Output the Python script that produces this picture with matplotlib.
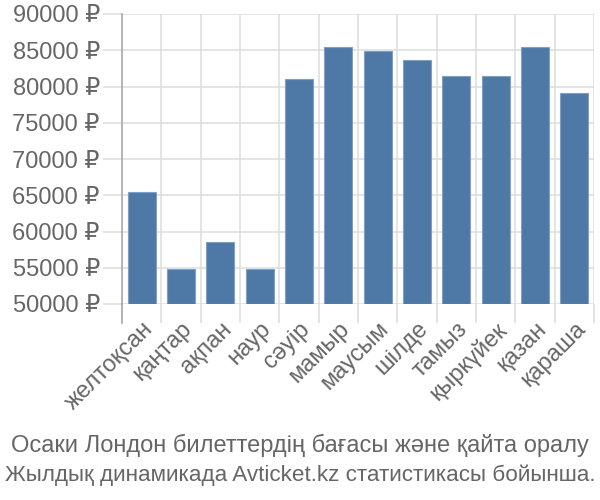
import matplotlib
matplotlib.use("Agg")
import matplotlib.pyplot as plt
import numpy as np

plt.rcParams['font.family'] = ['Liberation Sans', 'DejaVu Sans']

months = ["желтоқсан", "қаңтар", "ақпан", "наур", "сәуір", "мамыр", "маусым",
          "шілде", "тамыз", "қыркүйек", "қазан", "қараша"]
prices = [65400, 54800, 58600, 54800, 81100, 85400, 84900, 83600, 81500, 81500, 85400, 79100]
yticks = [50000, 55000, 60000, 65000, 70000, 75000, 80000, 85000, 90000]
title_lines = ["Осаки Лондон билеттердің бағасы және қайта оралу",
               "Жылдық динамикада Avticket.kz статистикасы бойынша."]

text_color = "#666666"
grid_color = "#dddddd"

fig = plt.figure(figsize=(6, 5), dpi=100)
ax = fig.add_axes([122/600, 1-304/500, (594-122)/600, (304-14)/500])

x = np.arange(len(months))
base = yticks[0]
ax.bar(x, [p - base for p in prices], bottom=base, width=0.72,
       color="#4e79a7", edgecolor="#7f9fc4", linewidth=0.8, zorder=3)

ax.set_xlim(-0.5, len(months) - 0.5)
ax.set_ylim(yticks[0], yticks[-1])
ax.set_yticks(yticks)
ax.set_yticklabels([f"{v} ₽" for v in yticks])
ax.set_xticks(x)
ax.set_xticklabels(months, rotation=45, ha="right", rotation_mode="anchor")
ax.set_xticks(np.arange(-0.5, len(months)), minor=True)

ax.tick_params(axis="y", length=14, color=grid_color, width=1.1,
               labelsize=17, labelcolor=text_color, pad=2)
ax.tick_params(axis="x", which="major", length=0, labelsize=17,
               labelcolor=text_color, pad=10)
ax.tick_params(axis="x", which="minor", length=14, color=grid_color, width=1.1)

ax.grid(True, axis="y", color=grid_color, linewidth=1.1, zorder=0)
ax.grid(True, axis="x", which="minor", color=grid_color, linewidth=1.1, zorder=0)
ax.grid(False, axis="x", which="major")

for s in ["top", "right", "bottom"]:
    ax.spines[s].set_visible(False)
ax.spines["left"].set_color("#aaaaaa")
ax.spines["left"].set_linewidth(1.2)
ax.plot([0, 0], [-0.066, 0], transform=ax.transAxes, color="#aaaaaa",
        linewidth=1.2, clip_on=False, zorder=4)

fig.text(0.5, 1-445/500, title_lines[0], ha="center", va="center",
         fontsize=17, color=text_color)
fig.text(0.5, 1-475/500, title_lines[1], ha="center", va="center",
         fontsize=16.2, color=text_color)

fig.savefig("out.png", dpi=100)
